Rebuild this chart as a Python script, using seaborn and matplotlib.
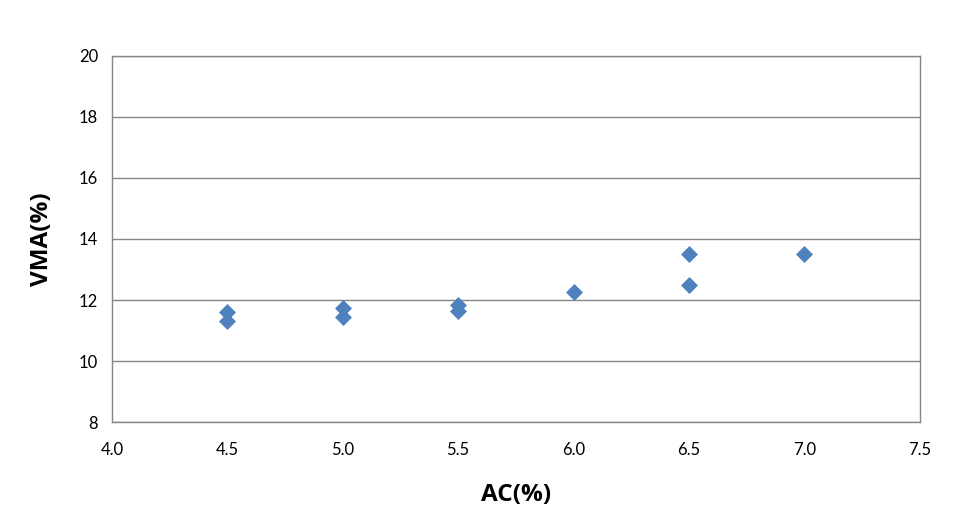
import matplotlib
matplotlib.use("Agg")
import matplotlib.pyplot as plt
import seaborn as sns
import pandas as pd

# Data
ac = [4.5, 4.5, 5.0, 5.0, 5.5, 5.5, 6.0, 6.5, 6.5, 7.0]
vma = [11.6, 11.3, 11.75, 11.45, 11.85, 11.65, 12.25, 13.5, 12.5, 13.5]
x_ticks = [4.0, 4.5, 5.0, 5.5, 6.0, 6.5, 7.0, 7.5]
y_ticks = [8, 10, 12, 14, 16, 18, 20]

df = pd.DataFrame({"AC": ac, "VMA": vma})

sns.set_style("white")
plt.rcParams['font.family'] = ['Lato', 'DejaVu Sans']

fig = plt.figure(figsize=(9.66, 5.27), dpi=100)
ax = fig.add_axes([0.116, 0.199, 0.836, 0.695])

sns.scatterplot(data=df, x="AC", y="VMA", marker="D", s=75, color="#4F81BD",
                edgecolor="#4F81BD", linewidth=0, ax=ax, zorder=3)

ax.set_xlim(4.0, 7.5)
ax.set_ylim(8, 20)
ax.set_xticks(x_ticks)
ax.set_xticklabels([f"{t:.1f}" for t in x_ticks])
ax.set_yticks(y_ticks)
ax.grid(axis="y", color="#868686", linewidth=1)
ax.grid(axis="x", visible=False)
for s in ax.spines.values():
    s.set_color("#868686")
    s.set_linewidth(1)
ax.tick_params(axis="both", length=0, labelsize=12, colors="#000000")
ax.tick_params(axis="x", pad=14)
ax.tick_params(axis="y", pad=10)

lab_font = dict(family=['Open Sans', 'DejaVu Sans'], size=17.5, weight="bold", color="black")
ax.set_xlabel("AC(%)", fontdict=lab_font, labelpad=18)
ax.set_ylabel("VMA(%)", fontdict=lab_font, labelpad=18)

fig.savefig("out.png", dpi=100, facecolor="white")
